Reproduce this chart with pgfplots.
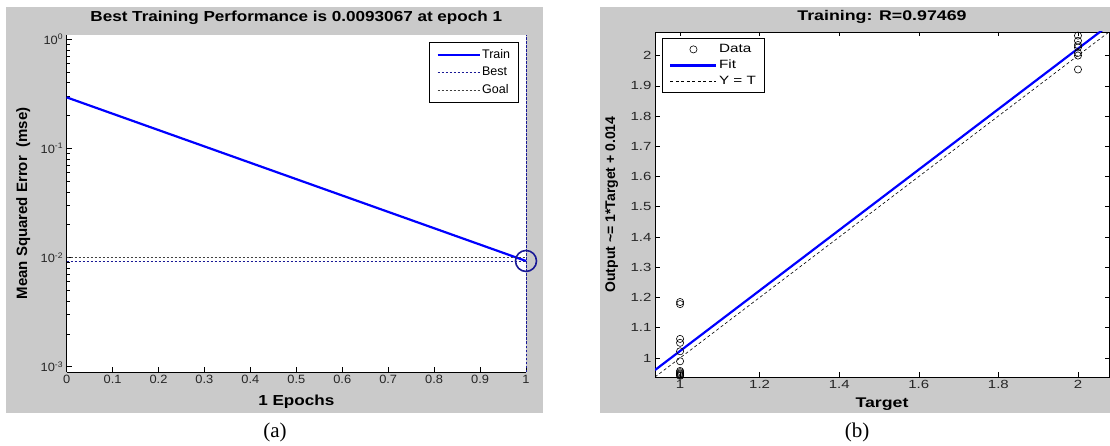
\documentclass[border=0pt]{standalone}
\usepackage{fontspec}
\setmainfont{Liberation Sans}
\newfontfamily\capfont{Liberation Serif}
\newfontfamily\mlA[FakeStretch=1.07]{Liberation Sans}
\newfontfamily\mlB[FakeStretch=1.18]{Liberation Sans}
\newfontfamily\mlC[FakeStretch=1.27]{Liberation Sans}
\usepackage{pgfplots}
\pgfplotsset{compat=1.18}
\definecolor{figgray}{RGB}{202,202,202}
\definecolor{mblue}{RGB}{0,0,255}
\definecolor{bestblue}{RGB}{25,25,150}

\begin{document}
\begin{tikzpicture}
\path[use as bounding box] (0pt,0pt) rectangle (1110pt,446pt);
\fill[figgray] (6.4pt,33pt) rectangle (543pt,439pt);
\fill[figgray] (600pt,33pt) rectangle (1110pt,439pt);

% (a) performance
\begin{axis}[
  at={(66.6pt,74pt)}, anchor=south west,
  scale only axis, width=459.4pt, height=337pt,
  ymode=log, xmin=0, xmax=1, ymin=8.94e-4, ymax=1.095,
  clip=false,
  axis x line*=bottom, axis y line*=left,
  axis line style={-, line width=0.7pt},
  axis background/.style={fill=white},
  xtick={0,0.1,0.2,0.3,0.4,0.5,0.6,0.7,0.8,0.9,1},
  xticklabels={0,0.1,0.2,0.3,0.4,0.5,0.6,0.7,0.8,0.9,1},
  ytick={0.001,0.01,0.1,1},
  yticklabels={10\textsuperscript{-3},10\textsuperscript{-2},10\textsuperscript{-1},10\textsuperscript{0}},
  tick align=inside, major tick length=5.5pt, minor tick length=3pt,
  tick style={black, line width=0.6pt},
  /pgf/number format/assume math mode=true,
  tick label style={font=\mlA\fontsize{12}{12}\selectfont, black!85},
  title={Best Training Performance is 0.0093067 at epoch 1},
  title style={font=\mlB\bfseries\fontsize{14.5}{14.5}\selectfont, at={(0.5,1)}, anchor=base, yshift=7pt},
  xlabel={1 Epochs},
  xlabel style={font=\mlB\bfseries\fontsize{14.5}{14.5}\selectfont, at={(axis description cs:0.5,0)}, anchor=base, yshift=-33pt},
  ylabel={Mean Squared Error\ \ (mse)},
  ylabel style={font=\bfseries\fontsize{15}{15}\selectfont, at={(axis description cs:-0.086,0.5)}, rotate=0, anchor=base},
  legend style={at={(1,1)}, anchor=north east, xshift=-7pt, yshift=-7pt,
    draw=black, line width=0.7pt, font=\fontsize{12.5}{12.5}\selectfont,
    legend cell align=left, row sep=3pt, inner xsep=7pt, inner ysep=5.5pt,
    nodes={inner sep=1.5pt, text height=9pt, text depth=2.5pt}},
  legend image code/.code={\draw[#1] (0pt,0pt) -- (42pt,0pt);},
]
\addplot[mblue, line width=2.2pt] coordinates {(0,0.294) (1,0.0093067)};
\addlegendentry{Train}
\addplot[bestblue, line width=0.9pt, dash pattern=on 2.5pt off 1.5pt] coordinates {(0,0.0093067) (1,0.0093067)};
\addlegendentry{Best}
\addplot[black!75, line width=0.9pt, dash pattern=on 2.5pt off 1.5pt] coordinates {(0,0.01) (1,0.01)};
\addlegendentry{Goal}
\addplot[bestblue, line width=0.9pt, dash pattern=on 2.5pt off 1.5pt, forget plot] coordinates {(1,8.94e-4) (1,1.095)};
\addplot[bestblue, only marks, mark=o, mark size=10.5pt, line width=1.6pt, forget plot] coordinates {(1,0.0093067)};
\end{axis}

% (b) regression
\begin{axis}[
  at={(655pt,69pt)}, anchor=south west,
  scale only axis, width=454pt, height=345pt,
  xmin=0.937, xmax=2.078, ymin=0.937, ymax=2.078,
  axis background/.style={fill=white},
  axis line style={line width=0.7pt},
  xtick={1,1.2,1.4,1.6,1.8,2},
  ytick={1,1.1,1.2,1.3,1.4,1.5,1.6,1.7,1.8,1.9,2},
  tick align=inside, major tick length=4.5pt,
  tick style={black, line width=0.6pt},
  /pgf/number format/assume math mode=true,
  tick label style={font=\mlC\fontsize{11.8}{11.8}\selectfont, black!85},
  title={Training: R=0.97469},
  title style={font=\mlC\bfseries\fontsize{14}{14}\selectfont, at={(0.5,1)}, anchor=base, yshift=5pt},
  xlabel={Target},
  xlabel style={font=\mlC\bfseries\fontsize{14}{14}\selectfont, at={(axis description cs:0.5,0)}, anchor=base, yshift=-31pt},
  ylabel={Output \textasciitilde= 1*Target + 0.014},
  ylabel style={font=\bfseries\fontsize{14}{14}\selectfont, at={(axis description cs:-0.088,0.5)}, rotate=0, anchor=base},
  legend style={at={(0,1)}, anchor=north west, xshift=7pt, yshift=-6pt,
    draw=black, line width=0.7pt, font=\mlC\fontsize{12}{12}\selectfont,
    legend cell align=left, row sep=2pt, inner xsep=7pt, inner ysep=4pt,
    nodes={inner sep=1.5pt, text height=8.6pt, text depth=2.5pt}},
  legend image code/.code={\draw[#1] (0pt,0pt) -- (46pt,0pt);},
]
\addplot[black, only marks, mark=o, mark size=3.6pt, line width=0.6pt,
  legend image code/.code={\draw[black, line width=0.6pt] (23pt,0pt) circle (3.6pt);}]
  coordinates {
  (1,1.185) (1,1.178) (1,1.063) (1,1.050) (1,1.022) (1,0.989)
  (1,0.957) (1,0.953) (1,0.949) (1,0.946) (1,0.943) (1,0.941)
  (2,2.079) (2,2.066) (2,2.049) (2,2.035) (2,2.027) (2,2.009) (2,2.000) (2,1.954)
};
\addlegendentry{Data}
\addplot[mblue, line width=2.2pt] coordinates {(0.937,0.960) (2.078,2.101)};
\addlegendentry{Fit}
\addplot[black, line width=0.6pt, dash pattern=on 3pt off 2.5pt] coordinates {(0.937,0.937) (2.078,2.078)};
\addlegendentry{Y = T}
\end{axis}

\node[font=\capfont\fontsize{21}{21}\selectfont] at (275pt,14pt) {(a)};
\node[font=\capfont\fontsize{21}{21}\selectfont] at (857pt,14pt) {(b)};
\end{tikzpicture}
\end{document}
